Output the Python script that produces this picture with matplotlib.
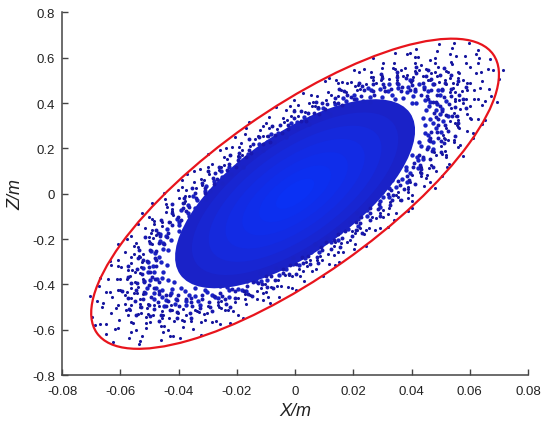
import numpy as np
import matplotlib
matplotlib.use('Agg')
from matplotlib import pyplot as plt
from matplotlib.patches import Ellipse
from matplotlib.transforms import Affine2D
from matplotlib.ticker import FuncFormatter

plt.rcParams['font.family'] = ['Liberation Sans', 'DejaVu Sans']
plt.rcParams['axes.unicode_minus'] = False

# sparse points near the edge of the cloud, x in 1e-4 m, z in 1e-3 m
outer_x = [520, 602, 531, 558, 496, 621, 524, 487, 538, 456, 554, 468, 492, 441, 450, 545, 406, 465, 411, 432,
           383, 351, 422, 364, 351, 323, 395, 335, 279, 298, 269, 300, 244, 260, 213, 205, 236, 174, 192, 159,
           149, 148, 106, 114, 79, 102, 59, 61, 33, 10, 9, -15, -18, -39, -42, -61, -91, -99, -110, -121,
           -137, -167, -154, -191, -182, -236, -196, -233, -245, -245, -298, -263, -295, -348, -324, -312, -318, -374, -401, -364,
           -379, -377, -493, -441, -421, -443, -419, -492, -457, -486, -458, -496, -577, -477, -502, -553, -501, -491, -554, -608,
           -535, -521, -564, -598, -527, -561, -675, -551, -601, -533, -576, -635, -550, -601, -564, -658, -541, -585, -553, -615,
           -565, -524, -687, -562, -534, -568, -534, -575, -504, -619, -529, -509, -556, -468, -512, -487, -548, -456, -498, -453,
           -422, -534, -433, -460, -401, -385, -438, -375, -389, -342, -418, -331, -357, -299, -301, -324, -265, -255, -253, -285,
           -239, -197, -205, -172, -222, -155, -169, -130, -111, -102, -94, -84, -57, -62, -33, -10, -11, 15, 16, 38,
           40, 71, 86, 92, 114, 136, 132, 146, 158, 189, 205, 196, 207, 242, 224, 291, 263, 277, 318, 291,
           324, 389, 327, 355, 387, 355, 388, 443, 387, 394, 432, 454, 430, 521, 468, 433, 519, 484, 503, 477,
           566, 501, 547, 524, 513, 642, 562, 507, 557, 605, 548, 533, 590, 651, 551, 568, 547, 613, 535, 586,
           636, 564, 549, 715, 575, 550, 600, 531, 637, 555, 576, 541]
outer_z = [485, 561, 512, 538, 493, 618, 539, 518, 571, 501, 609, 532, 559, 520, 549, 665, 514, 590, 541, 569,
           525, 502, 604, 545, 525, 507, 621, 554, 488, 521, 500, 557, 485, 517, 457, 477, 550, 447, 494, 459,
           430, 489, 414, 447, 384, 498, 389, 404, 363, 392, 342, 342, 389, 315, 336, 285, 288, 313, 254, 280,
           240, 292, 210, 205, 195, 200, 166, 155, 163, 127, 118, 104, 85, 100, 63, 61, 37, 16, 17, -8,
           -8, -30, -39, -59, -77, -81, -96, -112, -124, -132, -143, -173, -201, -183, -193, -231, -210, -221, -267, -293,
           -274, -267, -306, -325, -301, -337, -405, -346, -377, -349, -377, -433, -390, -426, -415, -484, -413, -446, -437, -503,
           -462, -443, -581, -491, -466, -513, -498, -536, -486, -596, -526, -506, -572, -497, -544, -535, -603, -518, -566, -533,
           -515, -652, -548, -583, -528, -507, -600, -536, -557, -512, -626, -521, -561, -495, -528, -567, -493, -474, -504, -567,
           -512, -459, -477, -441, -571, -447, -487, -428, -436, -398, -456, -410, -379, -409, -358, -365, -415, -333, -363, -303,
           -319, -331, -274, -292, -264, -314, -231, -255, -216, -202, -220, -166, -175, -161, -149, -151, -104, -109, -91, -84,
           -63, -76, -38, -15, -17, 8, 8, 35, 31, 53, 79, 83, 98, 119, 127, 117, 161, 169, 175, 183,
           217, 210, 229, 236, 248, 310, 288, 260, 302, 328, 313, 320, 354, 408, 345, 372, 358, 418, 380, 416,
           468, 415, 419, 545, 454, 450, 491, 449, 539, 485, 503, 488]

# more sparse points further out, same units
far_x = [563, 631, 514, 587, 628, 518, 582, 537, 462, 480, 596, 531, 480, 538, 397, 480, 425, 489, 494, 413,
         369, 411, 379, 415, 342, 383, 296, 339, 344, 268, 301, 260, 223, 216, 268, 220, 180, 201, 132, 160,
         122, 141, 118, 77, 69, 53, 48, 27, -3, -4, -27, -31, -64, -79, -89, -111, -95, -126, -157, -172,
         -186, -208, -181, -218, -224, -258, -300, -286, -256, -325, -299, -372, -347, -389, -341, -390, -449, -398, -447, -442,
         -380, -423, -525, -500, -484, -541, -428, -517, -490, -563, -609, -547, -489, -585, -539, -636, -565, -633, -532, -608,
         -671, -573, -643, -613, -528, -566, -703, -649, -607, -680, -521, -629, -578, -664, -698, -609, -544, -633, -583, -670,
         -579, -649, -531, -606, -651, -540, -607, -562, -484, -506, -627, -562, -511, -572, -425, -513, -458, -526, -535, -451,
         -404, -453, -417, -462, -383, -430, -336, -385, -396, -312, -350, -308, -265, -261, -324, -272, -229, -257, -176, -212,
         -171, -197, -178, -130, -116, -109, -100, -86, -49, -55, -22, -25, 4, 28, 32, 58, 50, 77, 96, 116,
         134, 150, 138, 166, 177, 203, 243, 238, 213, 275, 253, 320, 303, 339, 302, 345, 401, 359, 403, 402,
         346, 388, 481, 463, 450, 504, 400, 484, 461, 530, 576, 520, 465, 559, 515, 611, 545, 611, 515, 589,
         654, 560, 629, 601, 517, 559, 693, 642, 602, 674, 519, 627, 578, 665, 701, 614, 549, 641, 590, 680,
         590, 661, 543, 620, 670, 558, 627]
far_z = [534, 598, 503, 575, 635, 542, 609, 581, 500, 536, 665, 615, 575, 644, 494, 597, 548, 630, 663, 579,
         518, 602, 554, 637, 551, 618, 504, 576, 620, 514, 578, 537, 462, 482, 598, 536, 488, 546, 407, 492,
         438, 503, 512, 433, 387, 434, 400, 444, 369, 413, 324, 370, 381, 301, 339, 298, 257, 254, 315, 265,
         224, 251, 172, 208, 169, 194, 177, 130, 116, 110, 102, 89, 53, 60, 26, 30, 5, -20, -23, -47,
         -41, -67, -83, -104, -121, -135, -125, -151, -162, -186, -223, -219, -196, -255, -235, -297, -281, -315, -281, -321,
         -374, -335, -377, -376, -323, -363, -451, -434, -423, -473, -376, -454, -433, -498, -542, -490, -438, -527, -485, -576,
         -515, -577, -487, -556, -617, -529, -594, -568, -489, -529, -656, -608, -570, -638, -492, -594, -548, -630, -665, -582,
         -521, -609, -561, -647, -561, -629, -517, -590, -637, -531, -596, -556, -478, -502, -622, -562, -512, -573, -429, -519,
         -465, -535, -548, -465, -416, -470, -433, -484, -405, -454, -360, -411, -426, -341, -383, -341, -294, -294, -365, -312,
         -270, -302, -212, -256, -214, -246, -232, -179, -160, -162, -149, -145, -103, -115, -72, -83, -61, -28, -31, -4,
         -4, 20, 25, 50, 71, 80, 83, 100, 115, 132, 168, 172, 154, 205, 189, 245, 237, 266, 241, 275,
         325, 296, 332, 335, 289, 327, 406, 393, 386, 432, 347, 419, 402, 463, 506, 460, 411, 498, 458, 547,
         491, 551, 467, 533, 595, 512, 575]

# points in the busy band between the core and the sparse edge
band_x = [454, 515, 467, 534, 477, 432, 499, 442, 468, 512, 413, 438, 395, 448, 400, 458, 403, 364, 414, 366,
          382, 417, 330, 350, 310, 351, 306, 350, 301, 272, 300, 266, 269, 294, 225, 238, 202, 230, 191, 218,
          178, 161, 167, 148, 138, 151, 104, 110, 82, 93, 64, 73, 43, 39, 22, 19, -3, -3, -24, -25,
          -45, -51, -69, -78, -94, -85, -125, -110, -143, -157, -150, -159, -168, -191, -196, -224, -226, -204, -263, -233,
          -274, -299, -267, -282, -280, -318, -310, -354, -342, -309, -383, -339, -386, -421, -364, -386, -373, -423, -403, -461,
          -434, -392, -477, -422, -471, -515, -437, -463, -440, -499, -468, -535, -497, -449, -539, -477, -524, -573, -481, -509,
          -478, -542, -502, -574, -526, -476, -564, -499, -542, -593, -491, -520, -482, -547, -501, -573, -519, -469, -550, -486,
          -524, -572, -469, -496, -529, -468, -500, -547, -445, -471, -429, -486, -437, -499, -444, -401, -460, -407, -429, -469,
          -375, -397, -356, -404, -356, -407, -355, -321, -360, -319, -328, -358, -280, -297, -258, -293, -251, -286, -242, -218,
          -236, -208, -205, -224, -166, -176, -143, -163, -129, -147, -112, -101, -95, -84, -68, -75, -40, -42, -19, -21,
          3, 3, 26, 23, 52, 46, 74, 80, 88, 93, 107, 122, 134, 153, 161, 146, 196, 173, 210, 230,
          210, 222, 226, 256, 256, 292, 286, 259, 326, 288, 332, 363, 318, 337, 329, 373, 360, 411, 391, 354,
          434, 384, 432, 472, 404, 428, 410, 465, 440, 502, 469, 424, 512, 453, 502, 549, 463, 490, 463, 525,
          489, 559, 516, 467, 556, 492, 538, 588, 490, 519, 484, 549, 506, 578, 527, 477, 562, 497, 537, 587,
          483, 512, 472, 536, 489, 558, 503, 455]
band_z = [431, 489, 457, 522, 483, 436, 522, 462, 506, 554, 462, 489, 458, 519, 480, 548, 501, 453, 534, 473,
          513, 561, 463, 490, 453, 514, 470, 537, 485, 438, 511, 452, 485, 530, 432, 457, 418, 474, 427, 488,
          435, 393, 453, 401, 424, 463, 372, 394, 354, 401, 356, 407, 356, 322, 364, 322, 333, 364, 286, 303,
          266, 302, 260, 298, 253, 229, 250, 221, 221, 241, 182, 192, 160, 182, 148, 169, 133, 120, 119, 106,
          93, 102, 64, 68, 43, 49, 24, 27, 4, 3, -20, -17, -41, -45, -58, -61, -77, -87, -101, -115,
          -126, -114, -158, -139, -173, -189, -175, -186, -192, -217, -219, -250, -247, -224, -285, -252, -293, -320, -282, -298,
          -293, -332, -322, -368, -352, -318, -392, -347, -392, -428, -368, -390, -375, -425, -403, -461, -432, -391, -473, -418,
          -465, -508, -430, -455, -502, -444, -490, -535, -449, -476, -448, -508, -473, -540, -496, -448, -533, -471, -514, -562,
          -466, -494, -459, -521, -479, -547, -497, -449, -527, -466, -503, -550, -452, -478, -439, -498, -452, -517, -464, -419,
          -487, -431, -458, -500, -405, -429, -389, -442, -396, -452, -399, -361, -412, -364, -382, -417, -332, -351, -313, -355,
          -311, -355, -307, -278, -310, -274, -279, -305, -236, -250, -215, -244, -206, -235, -195, -176, -186, -165, -158, -173,
          -124, -131, -103, -116, -87, -99, -69, -62, -50, -44, -26, -28, -3, -4, 17, 19, 39, 44, 62, 56,
          90, 79, 108, 118, 118, 125, 135, 154, 161, 184, 188, 170, 223, 197, 235, 257, 231, 244, 245, 277,
          273, 312, 302, 273, 341, 302, 345, 377, 328, 347, 337, 382, 365, 418, 395, 357, 436, 386, 432, 472,
          403, 426, 406, 461, 434, 496, 461, 417]

# denser points around the solid core
mid_x = [445, 492, 417, 456, 403, 472, 405, 443, 413, 372, 426, 383, 388, 343, 395, 333, 354, 353, 299, 318,
         324, 259, 293, 259, 261, 234, 251, 209, 196, 204, 166, 176, 165, 121, 137, 109, 96, 87, 78, 50,
         47, 31, 8, 8, -14, -31, -34, -58, -72, -83, -98, -109, -125, -134, -163, -151, -191, -180, -197, -226,
         -221, -256, -250, -251, -279, -306, -292, -310, -350, -307, -337, -367, -344, -393, -368, -404, -363, -398, -441, -397,
         -464, -397, -442, -464, -426, -453, -494, -452, -480, -436, -504, -469, -522, -461, -489, -505, -441, -485, -520, -455,
         -498, -474, -507, -457, -517, -435, -477, -485, -458, -417, -484, -423, -456, -427, -443, -392, -450, -378, -408, -412,
         -365, -343, -373, -375, -343, -308, -332, -304, -328, -285, -259, -275, -234, -264, -227, -228, -196, -196, -166, -181,
         -167, -121, -133, -116, -89, -98, -67, -54, -50, -31, -8, -8, 14, 33, 35, 55, 69, 81, 94, 123,
         111, 148, 156, 146, 183, 189, 215, 216, 214, 246, 246, 292, 255, 293, 301, 324, 297, 347, 322, 383,
         366, 333, 396, 381, 422, 380, 422, 441, 419, 403, 475, 458, 432, 473, 459, 424, 501, 457, 483, 447,
         508, 475, 525, 447, 499, 463, 506, 484, 440, 517, 450, 486, 460, 498, 463, 506]
mid_z = [415, 459, 402, 454, 401, 485, 430, 471, 454, 423, 484, 451, 473, 418, 500, 438, 466, 484, 428, 455,
         485, 407, 461, 429, 456, 410, 468, 416, 391, 438, 386, 411, 424, 350, 396, 361, 377, 339, 379, 334,
         309, 339, 292, 315, 312, 250, 270, 269, 227, 263, 227, 191, 218, 182, 175, 162, 162, 120, 132, 117,
         87, 101, 72, 49, 55, 35, 12, 13, -8, -25, -27, -49, -63, -72, -84, -110, -98, -124, -154, -138,
         -178, -166, -185, -209, -205, -218, -253, -245, -260, -249, -302, -281, -328, -302, -320, -345, -313, -344, -383, -347,
         -380, -375, -415, -374, -437, -380, -417, -438, -427, -389, -466, -421, -454, -439, -471, -417, -494, -429, -464, -486,
         -446, -418, -473, -493, -452, -423, -475, -435, -492, -447, -407, -455, -410, -462, -423, -454, -391, -420, -386, -423,
         -430, -350, -384, -383, -350, -382, -327, -359, -329, -334, -283, -310, -316, -262, -283, -258, -220, -256, -217, -215,
         -194, -202, -167, -157, -155, -126, -143, -112, -84, -97, -71, -57, -50, -34, -13, -14, 6, 28, 26, 51,
         67, 61, 91, 103, 114, 118, 147, 154, 161, 169, 199, 206, 209, 228, 236, 230, 272, 261, 290, 268,
         319, 311, 344, 305, 354, 328, 372, 369, 336, 409, 368, 397, 389, 436, 405, 457]

# bounding ellipse, in (12.85*x, z) units so that both axes have the same pixel scale
x_stretch = 12.85
ell_width = 2.138
ell_height = 0.736
ell_angle = 35.1

# solid core, a bit rounder than the bounding ellipse, drawn as nested ellipses
core_width = 1.24
core_height = 0.53
core_levels = [1.0, 0.86, 0.72, 0.58, 0.44, 0.30, 0.16]
core_colors = ['#1a22c8', '#1826d2', '#1529dc', '#122be4', '#0f2dea', '#0c2fef', '#0a31f4']

fig = plt.figure(figsize=(5.5, 4.31), dpi=100)
ax = fig.add_axes([0.113, 0.1276, 0.847, 0.8411])
iso = Affine2D().scale(1.0 / x_stretch, 1.0) + ax.transData

for lev, col in zip(core_levels, core_colors):
    ax.add_patch(Ellipse((0, 0), core_width * lev, core_height * lev, angle=ell_angle,
                         transform=iso, facecolor=col, edgecolor='none', zorder=1))

ax.scatter(np.array(mid_x) * 1e-4, np.array(mid_z) * 1e-3, s=10, c='#1a22c4', linewidths=0, zorder=2)
ax.scatter(np.array(band_x) * 1e-4, np.array(band_z) * 1e-3, s=8, c='#1818b0', linewidths=0, zorder=2)
ax.scatter(np.array(outer_x) * 1e-4, np.array(outer_z) * 1e-3, s=5, c='#16169e', linewidths=0, zorder=3)
ax.scatter(np.array(far_x) * 1e-4, np.array(far_z) * 1e-3, s=5, c='#16169e', linewidths=0, zorder=3)

ax.add_patch(Ellipse((0, 0), ell_width, ell_height, angle=ell_angle, transform=iso,
                     facecolor='none', edgecolor='#e8141c', linewidth=1.6, zorder=4))

ax.set_xlim(-0.08, 0.08)
ax.set_ylim(-0.8, 0.8)
ax.set_xticks(np.arange(-0.08, 0.081, 0.02))
ax.set_yticks(np.arange(-0.8, 0.81, 0.2))
fmt = FuncFormatter(lambda v, p: '%g' % round(v, 3) if abs(v) > 1e-9 else '0')
ax.xaxis.set_major_formatter(fmt)
ax.yaxis.set_major_formatter(fmt)

for s in ['top', 'right']:
    ax.spines[s].set_visible(False)
for s in ['left', 'bottom']:
    ax.spines[s].set_color('#444444')
    ax.spines[s].set_linewidth(1.1)
ax.tick_params(direction='in', length=4, width=1, color='#444444', labelsize=9.5, labelcolor='#222222')
ax.tick_params(axis='x', pad=7)
ax.tick_params(axis='y', pad=5)

ax.set_xlabel('X/m', fontsize=13, style='italic', color='#222222', labelpad=4)
ax.set_ylabel('Z/m', fontsize=13, style='italic', color='#222222', labelpad=6)

plt.savefig('out.png', dpi=100)
